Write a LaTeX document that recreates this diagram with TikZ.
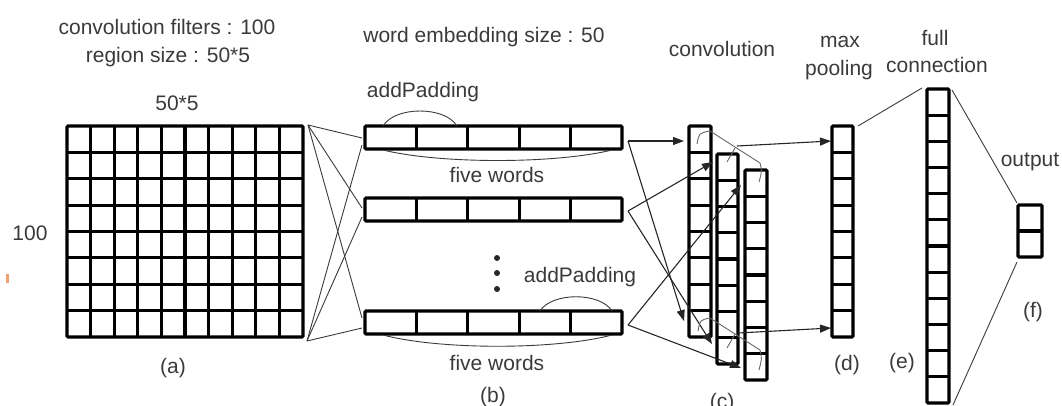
\documentclass[tikz,border=0pt]{standalone}
\usepackage{fontspec}
\setmainfont{Liberation Sans}
\usetikzlibrary{arrows.meta}
\definecolor{txt}{HTML}{3A3A3A}
\definecolor{lin}{HTML}{3A3A3A}
\definecolor{orng}{HTML}{F2A070}
\newcommand\myvcol[6]{%
  \node[cellbox, minimum width={(#4-#2)*1pt}, minimum height={(#5-#3)*1pt}] (#1) at ({(#2+#4)/2},{(#3+#5)/2}) {};
  \pgfmathsetmacro\cellh{(#5-#3)/#6}
  \pgfmathtruncatemacro\nm{#6-1}
  \foreach \k in {1,...,\nm} \draw[cellline] (#2,{#3+\k*\cellh}) -- (#4,{#3+\k*\cellh});
}
\newcommand\myhrow[6]{%
  \node[cellbox, minimum width={(#4-#2)*1pt}, minimum height={(#5-#3)*1pt}] (#1) at ({(#2+#4)/2},{(#3+#5)/2}) {};
  \pgfmathsetmacro\cellw{(#4-#2)/#6}
  \pgfmathtruncatemacro\nm{#6-1}
  \foreach \k in {1,...,\nm} \draw[cellline] ({#2+\k*\cellw},#3) -- ({#2+\k*\cellw},#5);
}
\begin{document}
\begin{tikzpicture}[x=1pt,y=-1pt,
  lbl/.style={font=\fontsize{21}{24}\selectfont, text=txt, inner sep=0pt},
  cellbox/.style={draw=black, line width=3.1pt, inner sep=0pt, outer sep=0pt, rounded corners=1pt},
  cellline/.style={draw=black, line width=3.1pt},
  conn/.style={draw=lin, line width=0.9pt},
  brk/.style={draw=black!60, line width=0.9pt},
  arr/.style={draw=black!85, line width=1.1pt, -{Triangle[length=11pt,width=8pt]}},
]
\useasboundingbox (0,0) rectangle (1062,405);

% ---------- (a) grid ----------
\node[cellbox, minimum width=236pt, minimum height=211pt] (ga) at (185,231.5) {};
\foreach \i in {1,...,9} \draw[cellline] ({67+\i*23.6},126) -- ({67+\i*23.6},337);
\foreach \j in {1,...,7} \draw[cellline] (67,{126+\j*26.375}) -- (303,{126+\j*26.375});

\node[lbl] (t1) at (167,27) {convolution filters : 100};
\node[lbl] (t2) at (168,57) {region size : 50*5};
\node[lbl] (t3) at (177,103) {50*5};
\node[lbl] (t4) at (30,233) {100};
\node[lbl] (la) at (173,368) {(a)};
\fill[orng] (6,274) rectangle (9,283);

% ---------- (b) rows ----------
\myhrow{r1}{365}{126}{622}{149}{5}
\myhrow{r2}{365}{198}{622}{221}{5}
\myhrow{r3}{365}{311}{622}{334}{5}

\node[lbl] (t5) at (484,37) {word embedding size : 50};
\node[lbl] (ap1) at (423,92) {addPadding};
\node[lbl] (fw1) at (497,175) {five words};
\node[lbl] (ap2) at (580,277) {addPadding};
\node[lbl] (fw2) at (497,363) {five words};
\node[lbl, anchor=north] (lb) at (493,387) {(b)};

\fill[black!85] (497,258) circle (3pt) (497,273) circle (3pt) (497,289) circle (3pt);

% arcs
\draw[conn] (383,126) .. controls (395,106) and (445,106) .. (457,126);
\draw[conn] (383,150) .. controls (440,164) and (555,164) .. (612,150);
\draw[conn] (540,311) .. controls (552,292) and (600,292) .. (612,311);
\draw[conn] (383,335) .. controls (440,350) and (555,350) .. (612,335);

% (a) -> (b) crossing lines
\coordinate (aT) at (308,125);
\coordinate (aB) at (307,341);
\coordinate (b1a) at (362,138);
\coordinate (b1b) at (362,145);
\coordinate (b2a) at (362,208);
\coordinate (b2b) at (362,217);
\coordinate (b3a) at (362,318);
\coordinate (b3b) at (362,328);
\draw[conn] (aT) -- (b1a);
\draw[conn] (aT) -- (b2a);
\draw[conn] (aT) -- (b3a);
\draw[conn] (aB) -- (b1b);
\draw[conn] (aB) -- (b2b);
\draw[conn] (aB) -- (b3b);

% ---------- (c) columns ----------
\myvcol{c1}{689}{126}{711}{337}{8}
\myvcol{c2}{717}{154}{738}{364}{8}
\myvcol{c3}{745}{170}{767}{380}{8}
\node[lbl] (tc) at (722,49) {convolution};
\node[lbl, anchor=north] (lc) at (722,393) {(c)};

% (b) -> (c) arrows
\coordinate (o1) at (628,141);
\coordinate (o2) at (628,211);
\coordinate (o3) at (628,325);
\coordinate (i1t) at (684,141);
\coordinate (i1b) at (684,321);
\coordinate (i2t) at (713,162);
\coordinate (i2b) at (712,344);
\coordinate (i3t) at (741,185);
\coordinate (i3b) at (741,368);
\draw[arr] (o1) -- (i1t);
\draw[arr] (o1) -- (i1b);
\draw[arr] (o2) -- (i2t);
\draw[arr] (o2) -- (i2b);
\draw[arr] (o3) -- (i3t);
\draw[arr] (o3) -- (i3b);

% pooling brackets
\draw[brk] (697,144) .. controls (699,133) .. (710,131) -- (760,163) .. controls (762,171) .. (759,182);
\draw[brk] (727,162) -- (735,148);
\draw[brk] (698,331) .. controls (700,320) .. (710,318) -- (760,350) .. controls (762,358) .. (759,370);
\draw[brk] (727,348) -- (735,334);

% ---------- (d) ----------
\myvcol{dcol}{832}{126}{853}{337}{8}
\node[lbl] (tmax) at (840,42) {max};
\node[lbl] (tpool) at (839,70) {pooling};
\node[lbl] (ld) at (847,365) {(d)};
\coordinate (pt) at (737,146);
\coordinate (pb) at (738,333);
\coordinate (dt) at (831,141);
\coordinate (db) at (831,328);
\draw[arr] (pt) -- (dt);
\draw[arr] (pb) -- (db);

% ---------- (e) ----------
\myvcol{ecol}{927}{89}{949}{403}{12}
\node[lbl] (tfull) at (935,38) {full};
\node[lbl] (tconn) at (937,65) {connection};
\node[lbl] (le) at (902,363) {(e)};
\coordinate (dtr) at (858,126);
\coordinate (etl) at (922,88);
\draw[conn] (dtr) -- (etl);

% ---------- (f) ----------
\myvcol{fcol}{1018}{205}{1042}{257}{2}
\node[lbl] (tout) at (1030,162) {output};
\node[lbl] (lf) at (1033,312) {(f)};
\coordinate (etr) at (952,90);
\coordinate (ftl) at (1017,203);
\coordinate (fbl) at (1017,262);
\coordinate (ebr) at (953,405);
\draw[conn] (etr) -- (ftl);
\draw[conn] (fbl) -- (ebr);
\end{tikzpicture}
\end{document}
